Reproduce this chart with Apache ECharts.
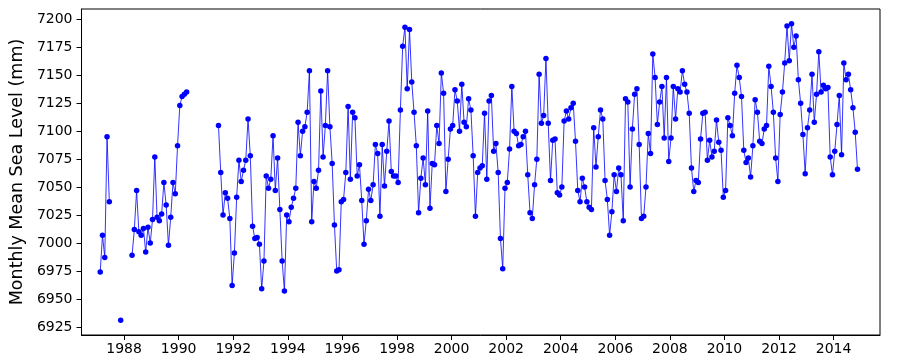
<!DOCTYPE html>
<html><head><meta charset="utf-8">
<script src="https://cdn.jsdelivr.net/npm/echarts@6/dist/echarts.min.js"></script>
<style>html,body{margin:0;padding:0;background:#fff}#chart{width:900px;height:360px}</style>
</head><body><div id="chart"></div>
<script>
// Tick labels
const xTickLabels = [1988,1990,1992,1994,1996,1998,2000,2002,2004,2006,2008,2010,2012,2014];
const yTickLabels = [6925,6950,6975,7000,7025,7050,7075,7100,7125,7150,7175,7200];

// Monthly mean sea level (mm); each segment starts at [year, month]
const segAStart = [1987, 2];
const segA = [6974, 7007, 6987, 7095, 7037];
const segBStart = [1987, 11];
const segB = [6931];
const segCStart = [1988, 4];
const segC = [6989, 7012, 7047, 7010, 7007, 7013, 6992, 7014, 7000, 7021, 7077, 7023, 7020, 7026,
              7054, 7034, 6998, 7023, 7054, 7044, 7087, 7123, 7131, 7133, 7135];
const segDStart = [1991, 6];
const segD1 = [7105, 7063, 7025, 7045, 7040, 7022, 6962, 6991, 7041, 7074, 7055, 7065, 7074, 7111, 7078, 7015, 7004, 7005, 6999, 6959,
               6984, 7060, 7049, 7057, 7096, 7047, 7076, 7030, 6984, 6957, 7025, 7019, 7032, 7040, 7049, 7108, 7078, 7100];
const segD2 = [7104, 7117, 7154, 7019, 7055, 7049, 7065, 7136, 7077, 7105, 7154, 7104, 7071, 7016, 6975, 6976, 7037, 7039, 7063, 7122,
               7057, 7117, 7112, 7060, 7070, 7038, 6999, 7020, 7048, 7038, 7052];
const segD3 = [7088, 7080, 7024, 7088, 7051, 7082, 7109, 7064, 7060, 7060, 7054, 7119, 7176, 7193, 7138, 7191, 7144, 7117, 7087, 7027,
               7058, 7076, 7052, 7118, 7031, 7071, 7070, 7105, 7089, 7152, 7134];
const segD4 = [7046, 7075, 7102, 7105, 7137, 7127, 7100, 7142, 7108, 7104, 7129, 7119, 7078, 7024, 7063, 7067, 7069, 7116, 7057, 7127,
               7132, 7082, 7089, 7063, 7004, 6977, 7049, 7054, 7084, 7140];
const segD5 = [7100, 7098, 7087, 7088, 7095, 7100, 7061, 7027, 7022, 7052, 7075, 7151, 7107, 7114, 7165, 7107, 7056, 7092, 7093, 7045,
               7043, 7050, 7109, 7118, 7111, 7121, 7125, 7091, 7047, 7037, 7058];
const segD6 = [7050, 7037, 7032, 7030, 7103, 7068, 7095, 7119, 7111, 7056, 7039, 7007, 7028, 7061, 7046, 7067, 7061, 7020, 7129, 7126,
               7050, 7102, 7133, 7138, 7088, 7022, 7024, 7050, 7098, 7080, 7169];
const segD7 = [7148, 7106, 7126, 7140, 7094, 7148, 7073, 7094, 7140, 7111, 7138, 7135, 7154, 7142, 7135, 7116, 7067, 7046, 7056, 7054,
               7093, 7116, 7117, 7074, 7092, 7077, 7082, 7110, 7090, 7083];
const segD8 = [7041, 7047, 7112, 7105, 7096, 7134, 7159, 7148, 7131, 7083, 7072, 7076, 7059, 7087, 7128, 7117, 7091, 7089, 7102, 7105,
               7158, 7140, 7117, 7076, 7055, 7115, 7135, 7161, 7194, 7163, 7196];
const segD9 = [7175, 7185, 7146, 7125, 7097, 7062, 7103, 7119, 7151, 7108, 7133, 7171, 7135, 7141, 7138, 7139, 7077, 7061, 7082, 7106,
               7132, 7079, 7161, 7146, 7151, 7137, 7121, 7099, 7066];
const segD = [].concat(segD1, segD2, segD3, segD4, segD5, segD6, segD7, segD8, segD9);

function toPoints(start, values) {
  return values.map((v, i) => [start[0] + (start[1] - 1 + i + 0.5) / 12, v]);
}
const segments = [[segAStart, segA], [segBStart, segB], [segCStart, segC], [segDStart, segD]];

const BLUE = '#0000ff';
const font = 'DejaVu Sans';
const chart = echarts.init(document.getElementById('chart'), null, {renderer: 'canvas'});
chart.setOption({
  animation: false,
  backgroundColor: '#fff',
  grid: {left: 78, right: 20, top: 9, bottom: 25, show: true, borderColor: '#000', borderWidth: 1, backgroundColor: 'transparent'},
  xAxis: {
    type: 'value', min: 1986.44, max: 2015.70,
    axisLine: {show: true, lineStyle: {color: '#000', width: 1}},
    axisTick: {show: true, length: 5, lineStyle: {color: '#000'}, customValues: xTickLabels},
    axisLabel: {color: '#000', fontFamily: font, fontSize: 14, margin: 7, customValues: xTickLabels, formatter: v => String(v)},
    splitLine: {show: false}
  },
  yAxis: {
    type: 'value', min: 6917.75, max: 7209.25,
    name: 'Monthly Mean Sea Level (mm)', nameLocation: 'middle', nameRotate: 90, nameGap: 47,
    nameTextStyle: {color: '#000', fontFamily: font, fontSize: 17.5},
    axisLine: {show: true, lineStyle: {color: '#000', width: 1}},
    axisTick: {show: true, length: 5, lineStyle: {color: '#000'}, customValues: yTickLabels},
    axisLabel: {color: '#000', fontFamily: font, fontSize: 14, margin: 9, customValues: yTickLabels, formatter: v => String(v)},
    splitLine: {show: false}
  },
  series: segments.map(([s, vals]) => ({
    type: 'line', data: toPoints(s, vals), symbol: 'circle', symbolSize: 5.5, showSymbol: true, showAllSymbol: true,
    lineStyle: {color: BLUE, width: 0.8}, itemStyle: {color: BLUE, borderWidth: 0}, silent: true, clip: false
  }))
});
</script></body></html>
